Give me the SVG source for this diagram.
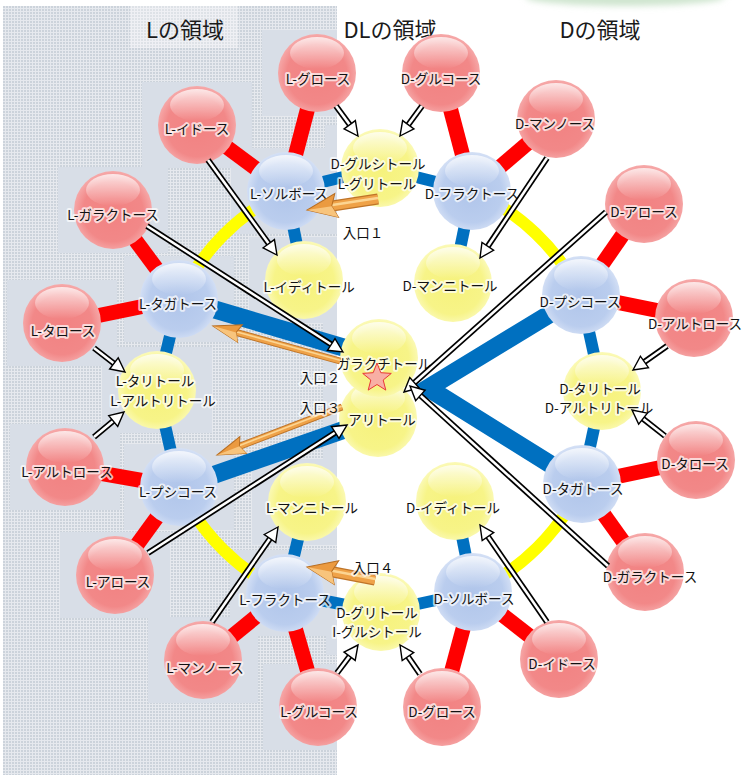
<svg xmlns="http://www.w3.org/2000/svg" xmlns:xlink="http://www.w3.org/1999/xlink" width="749" height="775" viewBox="0 0 749 775">
<style>
.lb{font-family:"Noto Sans CJK JP","Noto Sans",sans-serif;font-size:13.5px;fill:#111;text-anchor:middle;dominant-baseline:central;stroke:#fff;stroke-width:4;stroke-opacity:.7;paint-order:stroke;stroke-linejoin:round}
.tt{font-family:"Noto Sans CJK JP","Noto Sans",sans-serif;font-size:22px;fill:#1a1a1a;text-anchor:middle;dominant-baseline:central}
.flat{fill:#d8dee7}
.red{stroke:#ff0000;stroke-width:15;fill:none}
.blu{stroke:#0070c0;stroke-width:12;fill:none}
.bth{stroke:#0070c0;stroke-width:18;fill:none;stroke-linejoin:miter;stroke-miterlimit:10}
.yel{stroke:#ffff00;stroke-width:12;fill:none}
.hb{stroke:#000;stroke-width:6;fill:none}
.hw{stroke:#fff;stroke-width:2.6;fill:none;marker-end:url(#mh)}
.od{stroke:#bf7428;fill:none}
.of{stroke:#efa248;fill:none}
.oh{stroke:#fcd592;fill:none}
</style>
<defs>
<pattern id="dots" width="3" height="3" patternUnits="userSpaceOnUse"><rect width="3" height="3" fill="#e6e9ee"/><rect width="2" height="2" fill="#ccd3db"/></pattern>
<clipPath id="panelClip"><rect x="3" y="6" width="334" height="769"/></clipPath>
<filter id="blur" x="-50%" y="-50%" width="200%" height="200%"><feGaussianBlur stdDeviation="3"/></filter>
<radialGradient id="gR" cx="50%" cy="52%" r="55%"><stop offset="0" stop-color="#f28282"/><stop offset="0.7" stop-color="#f28888"/><stop offset="1" stop-color="#f7b2b2"/></radialGradient>
<radialGradient id="gB" cx="50%" cy="52%" r="55%"><stop offset="0" stop-color="#b0c5ea"/><stop offset="0.7" stop-color="#bacdee"/><stop offset="1" stop-color="#dbe5f7"/></radialGradient>
<radialGradient id="gY" cx="50%" cy="52%" r="55%"><stop offset="0" stop-color="#f6f27c"/><stop offset="0.7" stop-color="#f7f488"/><stop offset="1" stop-color="#fcfbc4"/></radialGradient>
<linearGradient id="hl" x1="0" y1="0" x2="0" y2="1"><stop offset="0" stop-color="#fff" stop-opacity="0.75"/><stop offset="1" stop-color="#fff" stop-opacity="0"/></linearGradient>
<g id="bR"><circle r="39" fill="url(#gR)"/><ellipse cy="-20" rx="27" ry="16" fill="url(#hl)"/></g>
<g id="bB"><circle r="39" fill="url(#gB)"/><ellipse cy="-20" rx="27" ry="16" fill="url(#hl)"/></g>
<g id="bY"><circle r="39" fill="url(#gY)"/><ellipse cy="-20" rx="27" ry="16" fill="url(#hl)"/></g>
<marker id="mh" markerUnits="userSpaceOnUse" orient="auto" refX="0" refY="0" markerWidth="20" markerHeight="20" viewBox="-17 -10 20 20" overflow="visible"><path d="M0,0 L-14,-7 L-14,7 Z" fill="#fff" stroke="#000" stroke-width="1.4"/></marker>
<marker id="moB" markerUnits="userSpaceOnUse" orient="auto" refX="0" refY="0" markerWidth="40" markerHeight="40" viewBox="-35 -20 40 40" overflow="visible"><path d="M0,0 L-30,-12 L-25,0 L-30,12 Z" fill="#eb9a40" stroke="#b86e22" stroke-width="1"/><path d="M0,0 L-30,-12 L-25,0 Z" fill="#f8c47c"/></marker>
<marker id="moS" markerUnits="userSpaceOnUse" orient="auto" refX="0" refY="0" markerWidth="40" markerHeight="40" viewBox="-35 -20 40 40" overflow="visible"><path d="M0,0 L-28,-9 L-24,0 L-28,9 Z" fill="#eb9a40" stroke="#b86e22" stroke-width="1"/><path d="M0,0 L-28,-9 L-24,0 Z" fill="#f8c47c"/></marker>
</defs>

<g id="background">
<rect width="749" height="775" fill="#fff"/>
<ellipse cx="625" cy="-3" rx="100" ry="9" fill="#cfe5cf" filter="url(#blur)"/>
<rect x="3" y="6" width="334" height="769" fill="url(#dots)"/>
<g clip-path="url(#panelClip)">
<rect class="flat" x="262" y="30" width="110" height="86"/>
<rect class="flat" x="142" y="82" width="110" height="86"/>
<rect class="flat" x="58" y="167" width="110" height="86"/>
<rect class="flat" x="231" y="148" width="110" height="86"/>
<rect class="flat" x="249" y="237" width="110" height="86"/>
<rect class="flat" x="124" y="256" width="110" height="86"/>
<rect class="flat" x="7" y="280" width="110" height="86"/>
<rect class="flat" x="102" y="347" width="110" height="86"/>
<rect class="flat" x="10" y="424" width="110" height="86"/>
<rect class="flat" x="124" y="444" width="110" height="86"/>
<rect class="flat" x="252" y="459" width="110" height="86"/>
<rect class="flat" x="60" y="532" width="110" height="86"/>
<rect class="flat" x="230" y="550" width="110" height="86"/>
<rect class="flat" x="148" y="617" width="110" height="86"/>
<rect class="flat" x="263" y="664" width="110" height="86"/>
<rect class="flat" x="325" y="125" width="110" height="86"/>
<rect class="flat" x="323" y="315" width="110" height="150"/>
<rect class="flat" x="326" y="569" width="110" height="86"/>
</g>
<rect x="130" y="6" width="108" height="42" fill="#fff" opacity="0.35"/>
</g>

<g id="titles">
<text class="tt" x="185" y="28">Lの領域</text>
<text class="tt" x="390" y="28">DLの領域</text>
<text class="tt" x="600" y="28">Dの領域</text>
</g>

<g id="connectors">
<path class="yel" d="M286,191 A221,221 0 0 0 179,299"/>
<path class="yel" d="M472,191 A221,221 0 0 1 581,295"/>
<path class="yel" d="M179,487 A221,221 0 0 0 285,593"/>
<path class="yel" d="M582,484 A221,221 0 0 1 473,592"/>
<path class="red" d="M317,73 L286,191"/>
<path class="red" d="M197,125 L286,191"/>
<path class="red" d="M441,73 L472,191"/>
<path class="red" d="M556,119 L472,191"/>
<path class="red" d="M113,210 L179,299"/>
<path class="red" d="M62,323 L179,299"/>
<path class="red" d="M644,204 L581,295"/>
<path class="red" d="M694,318 L581,295"/>
<path class="red" d="M65,467 L179,487"/>
<path class="red" d="M115,575 L179,487"/>
<path class="red" d="M696,460 L582,484"/>
<path class="red" d="M645,572 L582,484"/>
<path class="red" d="M203,660 L285,593"/>
<path class="red" d="M318,707 L285,593"/>
<path class="red" d="M559,659 L473,592"/>
<path class="red" d="M442,707 L473,592"/>
<path class="blu" d="M286,191 L380,168"/>
<path class="blu" d="M472,191 L380,168"/>
<path class="blu" d="M286,191 L304,280"/>
<path class="blu" d="M472,191 L453,283"/>
<path class="blu" d="M179,299 L157,390"/>
<path class="blu" d="M179,487 L157,390"/>
<path class="blu" d="M581,295 L602,391"/>
<path class="blu" d="M582,484 L602,391"/>
<path class="blu" d="M285,593 L307,502"/>
<path class="blu" d="M285,593 L381,612"/>
<path class="blu" d="M473,592 L381,612"/>
<path class="blu" d="M473,592 L455,501"/>
<path class="bth" d="M179,299 L379,358"/>
<path class="bth" d="M179,487 L378,418"/>
<path class="bth" d="M581,295 L428,388 L582,484"/>
</g>

<g id="n-l-gulose" transform="translate(317,73)"><use href="#bR"/><text class="lb" x="1" y="5">L-グロース</text></g>
<g id="n-d-glucose" transform="translate(441,73)"><use href="#bR"/><text class="lb" x="0" y="5">D-グルコース</text></g>
<g id="n-l-idose" transform="translate(197,125)"><use href="#bR"/><text class="lb" x="0" y="3">L-イドース</text></g>
<g id="n-d-mannose" transform="translate(556,119)"><use href="#bR"/><text class="lb" x="-1" y="4">D-マンノース</text></g>
<g id="n-l-galactose" transform="translate(113,210)"><use href="#bR"/><text class="lb" x="0" y="4">L-ガラクトース</text></g>
<g id="n-d-allose" transform="translate(644,204)"><use href="#bR"/><text class="lb" x="0" y="7">D-アロース</text></g>
<g id="n-l-talose" transform="translate(62,323)"><use href="#bR"/><text class="lb" x="1" y="7">L-タロース</text></g>
<g id="n-d-altrose" transform="translate(694,318)"><use href="#bR"/><text class="lb" x="1" y="5">D-アルトロース</text></g>
<g id="n-l-altrose" transform="translate(65,467)"><use href="#bR"/><text class="lb" x="2" y="4">L-アルトロース</text></g>
<g id="n-d-talose" transform="translate(696,460)"><use href="#bR"/><text class="lb" x="-1" y="3">D-タロース</text></g>
<g id="n-l-allose" transform="translate(115,575)"><use href="#bR"/><text class="lb" x="3" y="6">L-アロース</text></g>
<g id="n-d-galactose" transform="translate(645,572)"><use href="#bR"/><text class="lb" x="5" y="4">D-ガラクトース</text></g>
<g id="n-l-mannose" transform="translate(203,660)"><use href="#bR"/><text class="lb" x="2" y="7">L-マンノース</text></g>
<g id="n-d-idose" transform="translate(559,659)"><use href="#bR"/><text class="lb" x="3" y="4">D-イドース</text></g>
<g id="n-l-glucose" transform="translate(318,707)"><use href="#bR"/><text class="lb" x="1" y="4">L-グルコース</text></g>
<g id="n-d-gulose" transform="translate(442,707)"><use href="#bR"/><text class="lb" x="0" y="4">D-グロース</text></g>

<g id="n-l-sorbose" transform="translate(286,191)"><use href="#bB"/><text class="lb" x="3" y="2">L-ソルボース</text></g>
<g id="n-d-fructose" transform="translate(472,191)"><use href="#bB"/><text class="lb" x="0" y="2">D-フラクトース</text></g>
<g id="n-l-tagatose" transform="translate(179,299)"><use href="#bB"/><text class="lb" x="-1" y="4">L-タガトース</text></g>
<g id="n-d-psicose" transform="translate(581,295)"><use href="#bB"/><text class="lb" x="-1" y="6">D-プシコース</text></g>
<g id="n-l-psicose" transform="translate(179,487)"><use href="#bB"/><text class="lb" x="-1" y="4">L-プシコース</text></g>
<g id="n-d-tagatose" transform="translate(582,484)"><use href="#bB"/><text class="lb" x="1" y="4">D-タガトース</text></g>
<g id="n-l-fructose" transform="translate(285,593)"><use href="#bB"/><text class="lb" x="0" y="6">L-フラクトース</text></g>
<g id="n-d-sorbose" transform="translate(473,592)"><use href="#bB"/><text class="lb" x="1" y="6">D-ソルボース</text></g>

<g id="n-d-glucitol" transform="translate(380,168)"><use href="#bY"/><text class="lb" x="-2" y="-5">D-グルシトール</text><text class="lb" x="-3" y="15">L-グリトール</text></g>
<g id="n-l-iditol" transform="translate(304,280)"><use href="#bY"/><text class="lb" x="5" y="6">L-イディトール</text></g>
<g id="n-d-mannitol" transform="translate(453,283)"><use href="#bY"/><text class="lb" x="-3" y="2">D-マンニトール</text></g>
<g id="n-l-talitol" transform="translate(157,390)"><use href="#bY"/><text class="lb" x="-2" y="-10">L-タリトール</text><text class="lb" x="6" y="10">L-アルトリトール</text></g>
<g id="n-d-talitol" transform="translate(602,391)"><use href="#bY"/><text class="lb" x="-2" y="-3">D-タリトール</text><text class="lb" x="-3" y="16">D-アルトリトール</text></g>
<g id="n-allitol" transform="translate(378,418)"><use href="#bY"/><text class="lb" x="4" y="1">アリトール</text></g>
<g id="n-galactitol" transform="translate(379,358)"><use href="#bY"/><text class="lb" x="5" y="5">ガラクチトール</text></g>
<g id="n-l-mannitol" transform="translate(307,502)"><use href="#bY"/><text class="lb" x="5" y="5">L-マンニトール</text></g>
<g id="n-d-iditol" transform="translate(455,501)"><use href="#bY"/><text class="lb" x="-2" y="6">D-イディトール</text></g>
<g id="n-d-gulitol" transform="translate(381,612)"><use href="#bY"/><text class="lb" x="-4" y="0">D-グリトール</text><text class="lb" x="-4" y="19">I-グルシトール</text></g>

<polygon id="star" points="377,363 380.8,372.7 391.3,373.4 383.2,380 385.8,390.1 377,384.5 368.2,390.1 370.8,380 362.7,373.4 373.2,372.7" fill="#f8a2aa" fill-opacity="0.85" stroke="#e83838" stroke-width="1"/>

<g id="arrows">
<g><path class="hb" d="M336,106 L352.7,128.7"/><path class="hw" d="M336,106 L358,136"/></g>
<g><path class="hb" d="M422,106 L405.3,128.7"/><path class="hw" d="M422,106 L400,136"/></g>
<g><path class="hb" d="M208,160 L271.7,247.7"/><path class="hw" d="M208,160 L277,255"/></g>
<g><path class="hb" d="M547,158 L485,250.5"/><path class="hw" d="M547,158 L480,258"/></g>
<g><path class="hb" d="M147,226 L335.4,347.1"/><path class="hw" d="M147,226 L343,352"/></g>
<g><path class="hb" d="M606,212 L410.7,386"/><path class="hw" d="M606,212 L404,392"/></g>
<g><path class="hb" d="M608,566 L416.7,392.1"/><path class="hw" d="M608,566 L410,386"/></g>
<g><path class="hb" d="M94,348 L117.9,366.5"/><path class="hw" d="M94,348 L125,372"/></g>
<g><path class="hb" d="M94,437 L117.1,417.8"/><path class="hw" d="M94,437 L124,412"/></g>
<g><path class="hb" d="M667,346 L640.4,364.8"/><path class="hw" d="M667,346 L633,370"/></g>
<g><path class="hb" d="M665,436 L639.1,415.6"/><path class="hw" d="M665,436 L632,410"/></g>
<g><path class="hb" d="M148,553 L339.4,429.9"/><path class="hw" d="M148,553 L347,425"/></g>
<g><path class="hb" d="M212,622 L272.9,534.4"/><path class="hw" d="M212,622 L278,527"/></g>
<g><path class="hb" d="M547,622 L485.1,532.4"/><path class="hw" d="M547,622 L480,525"/></g>
<g><path class="hb" d="M337,673 L352.6,652.2"/><path class="hw" d="M337,673 L358,645"/></g>
<g><path class="hb" d="M420,674 L405.1,652.4"/><path class="hw" d="M420,674 L400,645"/></g>
</g>

<g id="entrances">
<g id="e1"><path class="od" stroke-width="11" d="M378,199 L330.7,206.3"/><path class="of" stroke-width="8.5" d="M378,199 L330.7,206.3"/><path class="oh" stroke-width="2.5" d="M378,198 L330.7,205.3"/><path d="M330.7,206.3 L307,210" stroke="none" fill="none" marker-end="url(#moB)"/></g>
<g id="e2"><path class="od" stroke-width="7" d="M340,361 L234.2,331.9"/><path class="of" stroke-width="5" d="M340,361 L234.2,331.9"/><path class="oh" stroke-width="1.6" d="M340,360.3 L234.2,331.2"/><path d="M234.2,331.9 L213,326" stroke="none" fill="none" marker-end="url(#moS)"/></g>
<g id="e3"><path class="od" stroke-width="7" d="M342,407 L237.5,447.1"/><path class="of" stroke-width="5" d="M342,407 L237.5,447.1"/><path class="oh" stroke-width="1.6" d="M341.7,406.3 L237.2,446.4"/><path d="M237.5,447.1 L217,455" stroke="none" fill="none" marker-end="url(#moS)"/></g>
<g id="e4"><path class="od" stroke-width="11" d="M375,580 L330.6,571.5"/><path class="of" stroke-width="8.5" d="M375,580 L330.6,571.5"/><path class="oh" stroke-width="2.5" d="M375.2,579 L330.8,570.5"/><path d="M330.6,571.5 L307,567" stroke="none" fill="none" marker-end="url(#moB)"/></g>
<text class="lb" x="363" y="232">入口１</text>
<text class="lb" x="320" y="377">入口２</text>
<text class="lb" x="320" y="407">入口３</text>
<text class="lb" x="373" y="567">入口４</text>
</g>
</svg>
